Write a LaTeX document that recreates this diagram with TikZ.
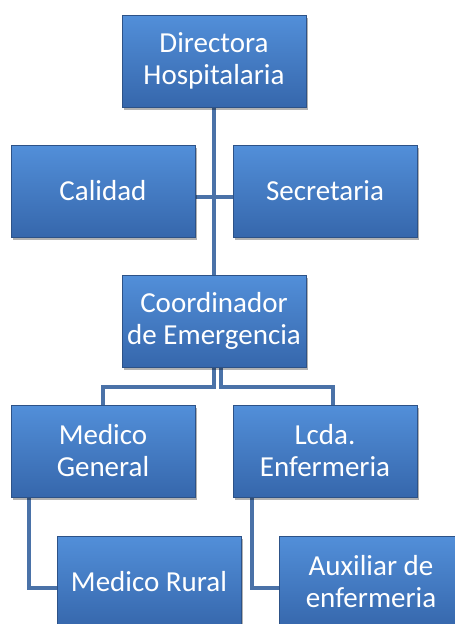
\documentclass[tikz,border=0pt]{standalone}
\usepackage{fontspec}
\setmainfont{Carlito}
\usepackage{tikz}
\usetikzlibrary{positioning, shadows, backgrounds}
\definecolor{boxtop}{RGB}{82,143,217}
\definecolor{boxbot}{RGB}{54,103,172}
\definecolor{boxedge}{RGB}{45,82,135}
\definecolor{linkblue}{RGB}{74,114,168}

\begin{document}
\begin{tikzpicture}[x=1pt, y=-1pt,
  box/.style={rectangle, draw=boxedge, line width=0.8pt, top color=boxtop, bottom color=boxbot,
              minimum width=184pt, minimum height=92pt, inner sep=0pt, outer sep=0pt,
              text=white, align=center, font=\fontsize{29}{32}\selectfont,
              drop shadow={shadow xshift=2pt, shadow yshift=-3pt, opacity=0.3, fill=black}},
  link/.style={linkblue, line width=4pt}
]
\useasboundingbox (0,0) rectangle (455,624);
\clip (0,0) rectangle (455,624);

\node[box] (dir) at (214,61) {Directora\\Hospitalaria};
\node[box] (cal) at (103,191) {Calidad};
\node[box, right=38pt of cal] (sec) {Secretaria};
\node[box] (coord) at (214,321) {Coordinador\\de Emergencia};
\node[box, below=168pt of cal] (medg) {Medico\\General};
\node[box, right=38pt of medg] (lcda) {Lcda.\\Enfermeria};
\node[box, below=39pt of medg, xshift=46pt] (medr) {Medico Rural};
\node[box, below=39pt of lcda, xshift=46pt] (aux) {Auxiliar de\\enfermeria};

% connectors behind the boxes
\begin{scope}[on background layer]
\draw[link] (dir.south) -- (coord.north);
\draw[link] ([yshift=-6pt]cal.east) -- ([yshift=-6pt]sec.west);
\draw[link] ([xshift=-0.5pt]coord.south) -- ++(0,20) -| (medg.north);
\draw[link] ([xshift=6.5pt]coord.south) -- ++(0,20) -| ([xshift=8pt]lcda.north);
\draw[link] ([xshift=18pt]medg.south west) |- ([yshift=-6pt]medr.west);
\draw[link] ([xshift=19pt]lcda.south west) |- ([yshift=-6pt]aux.west);
\end{scope}
\end{tikzpicture}
\end{document}
